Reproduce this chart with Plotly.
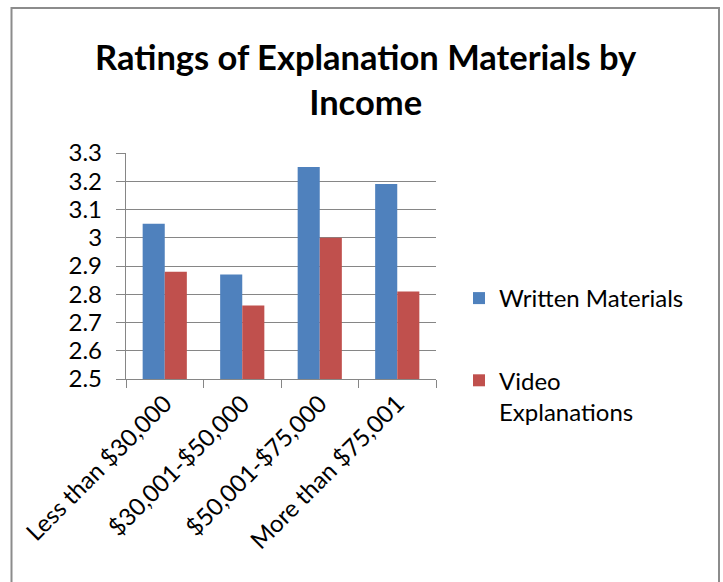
import plotly.graph_objects as go

categories = ["Less than $30,000", "$30,001-$50,000", "$50,001-$75,000", "More than $75,001"]
written_materials = [3.05, 2.87, 3.25, 3.19]
video_explanations = [2.88, 2.76, 3.00, 2.81]
y_ticks = [2.5, 2.6, 2.7, 2.8, 2.9, 3.0, 3.1, 3.2, 3.3]
y_tick_labels = ["2.5", "2.6", "2.7", "2.8", "2.9", "3", "3.1", "3.2", "3.3"]

FONT = "Lato, Carlito, Calibri, sans-serif"
W, H = 723, 582
L, R, T, B = 126, 287, 153, 203
pw, ph = W - L - R, H - T - B
AXIS_GREY = "#868686"


def px_x(x):
    return (x - L) / pw


def px_y(y):
    return (H - B - y) / ph


fig = go.Figure()
fig.add_trace(go.Bar(
    x=categories, y=written_materials, name="Written Materials",
    marker=dict(color="#4F81BD", line=dict(width=0)), legendgroup="a",
))
fig.add_trace(go.Bar(
    x=categories, y=video_explanations, name="Video<br>Explanations",
    marker=dict(color="#C0504D", line=dict(width=0)), legendgroup="b",
))

fig.update_layout(
    width=W, height=H,
    margin=dict(l=L, r=R, t=T, b=B),
    paper_bgcolor="white", plot_bgcolor="white",
    barmode="group", bargap=0.43, bargroupgap=0,
    font=dict(family=FONT, color="black"),
    legend=dict(
        x=px_x(459), y=px_y(276), xanchor="left", yanchor="top",
        font=dict(family=FONT, size=24, color="black"),
        tracegroupgap=48, valign="top", itemwidth=30,
        bgcolor="rgba(0,0,0,0)",
    ),
    showlegend=True,
)

# chart title
fig.add_annotation(
    text="<b>Ratings of Explanation Materials by<br>Income</b>",
    xref="paper", yref="paper", x=px_x(366), y=px_y(79),
    xanchor="center", yanchor="middle", showarrow=False,
    font=dict(family=FONT, size=34.5, color="black"),
)

fig.update_yaxes(
    range=[2.5, 3.3], tickvals=y_ticks, ticktext=y_tick_labels,
    showgrid=True, gridcolor=AXIS_GREY, gridwidth=1.3,
    showline=True, linecolor=AXIS_GREY, linewidth=1.3,
    ticks="outside", ticklen=9, tickcolor=AXIS_GREY,
    ticklabelstandoff=9,
    tickfont=dict(family=FONT, size=24, color="black"),
    zeroline=False, fixedrange=True,
)
fig.update_xaxes(
    showline=True, linecolor=AXIS_GREY, linewidth=1.3,
    ticks="outside", ticklen=8, tickcolor=AXIS_GREY, tickson="boundaries",
    tickangle=-45, tickfont=dict(family=FONT, size=24, color="black"),
    showgrid=False, fixedrange=True,
)

# chart frame
fig.add_shape(
    type="rect", xref="paper", yref="paper",
    x0=px_x(11.5), x1=px_x(719), y0=px_y(590), y1=px_y(8),
    line=dict(color="#8C8C8C", width=2), fillcolor="rgba(0,0,0,0)", layer="below",
)

fig.write_html("out.html")
